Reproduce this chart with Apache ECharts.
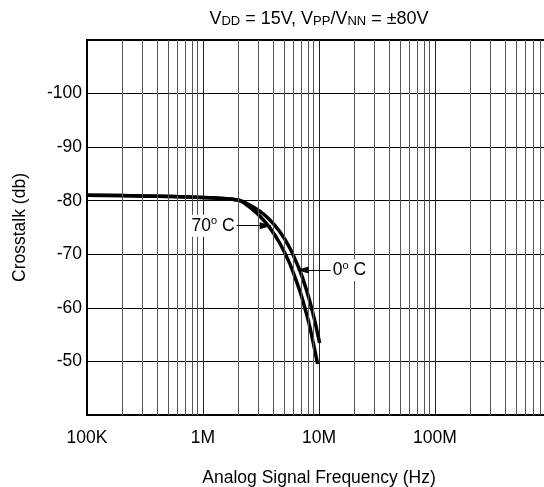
<!DOCTYPE html>
<html><head><meta charset="utf-8">
<script src="https://cdn.jsdelivr.net/npm/echarts@6/dist/echarts.min.js"></script>
<style>html,body{margin:0;padding:0;background:#fff}#c{width:544px;height:487px}</style>
</head><body><div id="c"></div>
<script>
// Tick labels
const xTickLabels = ['100K', '1M', '10M', '100M', '1G'];
const yMin = -110, yMax = -40, yStep = 10;
// Minor gridline positions (log decades x multipliers)
const gridDecades = [1e5, 1e6, 1e7, 1e8];
const gridMultipliers = [2, 3, 4, 5, 6, 7, 8, 9];

// 70° C curve
const freq70 = [1e5, 3e5, 1e6, 1.6e6, 2.073e6, 2.528e6, 3.083e6, 3.757e6, 4.581e6, 5.585e6, 6.81e6, 7.518e6, 8.302e6, 9.727e6];
const db70   = [-81.0, -80.9, -80.6, -80.35, -80.04, -78.81, -77.15, -74.98, -72.11, -68.30, -63.26, -60.16, -56.59, -49.52];
// 0° C curve
const freq0 = [1e5, 3e5, 1e6, 1.6e6, 2.073e6, 2.528e6, 3.083e6, 3.757e6, 4.581e6, 5.585e6, 6.81e6, 7.518e6, 8.302e6, 9.166e6, 1.012e7];
const db0   = [-81.0, -80.9, -80.6, -80.35, -80.04, -79.20, -78.04, -76.46, -74.25, -71.23, -67.07, -64.43, -61.34, -57.70, -53.44];

// Annotations: label position, arrow tail freq, arrow tip freq
const ann70 = { text: '70', at: [1.222e6, -75.33], tail: 1.82e6, tip: 3.47e6 };
const ann0  = { text: '0',  at: [1.83e7, -67.07], tail: 1.31e7, tip: 7.23e6 };

const minorLines = [];
gridDecades.forEach(d => gridMultipliers.forEach(m => minorLines.push({ xAxis: d * m })));

const FONT = 'Liberation Sans, Arial, sans-serif';
const FS = 17.5;
const chart = echarts.init(document.getElementById('c'), null, { renderer: 'canvas' });

const lineStyleCurve = { color: '#000', width: 3.5 };

chart.setOption({
  animation: false,
  textStyle: { fontFamily: FONT, color: '#000' },
  grid: { left: 87, top: 40, right: -7, bottom: 72, outerBoundsMode: 'none', containLabel: false, show: true, borderColor: '#000', borderWidth: 2, backgroundColor: 'transparent' },
  xAxis: [{
    type: 'log', logBase: 10, min: 1e5, max: 1e9,
    axisLine: { show: true, lineStyle: { color: '#000', width: 2 } },
    axisTick: { show: false },
    splitLine: { show: true, lineStyle: { color: '#222', width: 1 } },
    axisLabel: {
      margin: 14, fontSize: FS, color: '#000', fontFamily: FONT, showMaxLabel: false,
      formatter: v => xTickLabels[Math.round(Math.log10(v)) - 5]
    },
    name: 'Analog Signal Frequency (Hz)', nameLocation: 'middle', nameGap: 54,
    nameTextStyle: { fontSize: FS, color: '#000', fontFamily: FONT }
  }, {
    type: 'log', logBase: 10, min: 1e5, max: 1e9, position: 'top',
    axisLine: { show: false }, axisTick: { show: false }, axisLabel: { show: false }, splitLine: { show: false },
    name: '{v|V}{s|DD}{v| = 15V, V}{s|PP}{v|/V}{s|NN}{v| = ±80V}',
    nameLocation: 'middle', nameGap: 12,
    nameTextStyle: {
      fontFamily: FONT,
      rich: {
        v: { fontSize: 18, lineHeight: 22, color: '#000', fontFamily: FONT, verticalAlign: 'bottom' },
        s: { fontSize: 13, lineHeight: 14, color: '#000', fontFamily: FONT, verticalAlign: 'bottom' }
      }
    }
  }],
  yAxis: {
    type: 'value', inverse: true, min: yMin, max: yMax, interval: yStep,
    axisLine: { show: true, lineStyle: { color: '#000', width: 2 } },
    axisTick: { show: false },
    splitLine: { show: true, lineStyle: { color: '#000', width: 1 } },
    axisLabel: { margin: 5, fontSize: FS, color: '#000', fontFamily: FONT, showMinLabel: false, showMaxLabel: false },
    name: 'Crosstalk (db)', nameLocation: 'middle', nameGap: 58,
    nameTextStyle: { fontSize: FS, color: '#000', fontFamily: FONT }
  },
  series: [
    {
      name: 'grid', type: 'line', data: [], z: 1, silent: true,
      markLine: {
        silent: true, symbol: ['none', 'none'], label: { show: false },
        lineStyle: { color: '#555', width: 1, type: 'solid' },
        emphasis: { disabled: true },
        data: minorLines
      }
    },
    {
      name: '70C', type: 'line', z: 3, showSymbol: false, smooth: 0.3,
      lineStyle: lineStyleCurve,
      data: freq70.map((f, i) => [f, db70[i]])
    },
    {
      name: '0C', type: 'line', z: 3, showSymbol: false, smooth: 0.3,
      lineStyle: lineStyleCurve,
      data: freq0.map((f, i) => [f, db0[i]])
    },
    {
      name: 'annot', type: 'line', data: [], z: 5, silent: true,
      markLine: {
        silent: true, symbol: ['none', 'triangle'], symbolSize: [7, 12], label: { show: false },
        lineStyle: { color: '#000', width: 1, type: 'solid' },
        emphasis: { disabled: true },
        data: [
          [{ coord: [ann70.tail, ann70.at[1]] }, { coord: [ann70.tip, ann70.at[1]] }],
          [{ coord: [ann0.tail, ann0.at[1]] }, { coord: [ann0.tip, ann0.at[1]] }]
        ]
      },
      markPoint: {
        silent: true, symbol: 'rect', symbolSize: 1,
        itemStyle: { color: 'rgba(0,0,0,0)' },
        label: {
          show: true, position: 'inside', backgroundColor: '#fff', padding: [1, 2],
          rich: {
            t: { fontSize: FS, lineHeight: 20, color: '#000', fontFamily: FONT },
            o: { fontSize: 11, lineHeight: 12, color: '#000', fontFamily: FONT, verticalAlign: 'top' }
          }
        },
        data: [
          { coord: ann70.at, label: { formatter: '{t|' + ann70.text + '}{o|o}{t| C}' } },
          { coord: ann0.at, label: { formatter: '{t|' + ann0.text + '}{o|o}{t| C}' } }
        ]
      }
    }
  ]
});
</script>
</body></html>
